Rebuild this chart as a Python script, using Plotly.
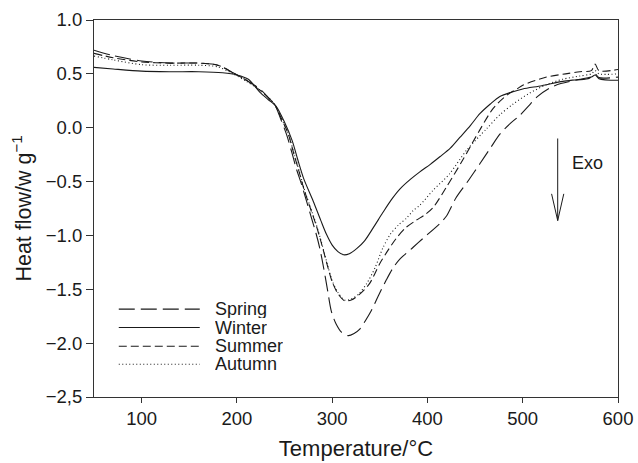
import plotly.graph_objects as go

# ---------------- data ----------------
spring_x = [50, 70, 100, 130, 160, 180, 196, 210, 224, 233, 240, 246, 252, 258, 262, 268, 273, 278,
            283, 287, 291, 295, 299, 304, 310, 317, 323, 329, 335, 341, 349, 357, 364, 371, 385, 395,
            413, 420, 430, 443, 455, 466, 476, 487, 497, 506, 515, 528, 540, 555, 570, 576, 580, 600]
spring_y = [0.72, 0.67, 0.62, 0.60, 0.60, 0.58, 0.51, 0.44, 0.36, 0.28, 0.21, 0.08, -0.06, -0.24,
            -0.37, -0.53, -0.68, -0.83, -0.98, -1.12, -1.30, -1.50, -1.70, -1.82, -1.90, -1.93, -1.91,
            -1.87, -1.79, -1.70, -1.55, -1.41, -1.30, -1.22, -1.11, -1.03, -0.89, -0.82, -0.65, -0.49,
            -0.335, -0.19, -0.06, 0.04, 0.115, 0.20, 0.286, 0.367, 0.41, 0.44, 0.46, 0.50, 0.465, 0.47]

winter_x = [50, 70, 100, 130, 160, 185, 200, 212, 224, 233, 241, 250, 258, 264, 270, 280, 288, 294,
            300, 306, 312, 318, 326, 334, 343, 353, 362, 371, 382, 392, 403, 413, 424, 434, 445, 455,
            466, 476, 488, 500, 520, 542, 560, 572, 576, 580, 600]
winter_y = [0.56, 0.545, 0.525, 0.52, 0.52, 0.51, 0.49, 0.45, 0.33, 0.26, 0.20, 0.05, -0.12, -0.30,
            -0.47, -0.68, -0.86, -0.99, -1.09, -1.15, -1.18, -1.17, -1.12, -1.05, -0.93, -0.79, -0.67,
            -0.57, -0.48, -0.41, -0.34, -0.27, -0.19, -0.09, 0.02, 0.13, 0.22, 0.29, 0.33, 0.36, 0.39,
            0.43, 0.45, 0.47, 0.49, 0.455, 0.44]

summer_x = [50, 70, 100, 130, 160, 180, 196, 210, 224, 233, 240, 247, 254, 260, 265, 270, 276, 283,
            288, 295, 300, 306, 313, 320, 327, 339, 350, 357, 367, 377, 388, 397, 406, 420, 437, 455,
            469, 483, 494, 500, 525, 545, 560, 572, 576, 580, 600]
summer_y = [0.69, 0.65, 0.61, 0.60, 0.60, 0.58, 0.51, 0.44, 0.35, 0.28, 0.21, 0.08, -0.06, -0.25,
            -0.40, -0.56, -0.72, -0.90, -1.05, -1.28, -1.43, -1.54, -1.607, -1.60, -1.56, -1.45,
            -1.26, -1.16, -1.03, -0.93, -0.86, -0.81, -0.74, -0.55, -0.30, -0.02, 0.18, 0.30, 0.36,
            0.395, 0.47, 0.50, 0.52, 0.53, 0.59, 0.53, 0.54]

autumn_x = [50, 70, 100, 130, 160, 180, 196, 210, 224, 233, 240, 247, 254, 260, 265, 270, 276, 283,
            288, 295, 300, 306, 313, 320, 327, 336, 345, 353, 361, 370, 378, 385, 392, 406, 423, 441,
            462, 476, 490, 507, 525, 542, 560, 572, 576, 580, 600]
autumn_y = [0.665, 0.63, 0.585, 0.58, 0.58, 0.565, 0.50, 0.43, 0.35, 0.28, 0.21, 0.08, -0.06, -0.24,
            -0.39, -0.55, -0.71, -0.89, -1.04, -1.27, -1.42, -1.53, -1.60, -1.59, -1.55, -1.45,
            -1.30, -1.12, -0.99, -0.90, -0.84, -0.77, -0.72, -0.58, -0.43, -0.21, -0.01, 0.12, 0.22,
            0.32, 0.40, 0.45, 0.48, 0.50, 0.53, 0.50, 0.50]

series_names = ["Spring", "Winter", "Summer", "Autumn"]
x_ticks = [100, 200, 300, 400, 500, 600]
y_ticks = [-2.5, -2.0, -1.5, -1.0, -0.5, 0.0, 0.5, 1.0]
y_tick_labels = ["\u22122,5", "\u22122.0", "\u22121.5", "\u22121.0", "\u22120.5", "0.0", "0.5", "1.0"]

# ---------------- styling ----------------
INK = "#1a1a1a"
FONT = "Liberation Sans, Arial, Helvetica, sans-serif"
dashes = {"Spring": "16px,6px", "Winter": "solid", "Summer": "8px,4px", "Autumn": "1px,2.5px"}
data = {"Spring": (spring_x, spring_y), "Winter": (winter_x, winter_y),
        "Summer": (summer_x, summer_y), "Autumn": (autumn_x, autumn_y)}

fig = go.Figure()
for name in series_names:
    xs, ys = data[name]
    fig.add_trace(go.Scatter(
        x=xs, y=ys, mode="lines", name=name, showlegend=False,
        line=dict(color=INK, width=1.1, dash=dashes[name], shape="spline", smoothing=0.8),
    ))

# manual legend (long line samples like the original)
leg_x0, leg_x1, leg_tx = 76, 161, 176
leg_rows = [-1.684, -1.855, -2.029, -2.196]
for name, yy in zip(series_names, leg_rows):
    fig.add_shape(type="line", xref="x", yref="y", x0=leg_x0, x1=leg_x1, y0=yy, y1=yy,
                  line=dict(color=INK, width=1.1, dash=dashes[name]))
    fig.add_annotation(x=leg_tx, y=yy, xref="x", yref="y", text=name, showarrow=False,
                       xanchor="left", yanchor="middle", height=18, borderpad=0,
                       font=dict(family=FONT, size=18, color=INK))

# "Exo" arrow (open V head)
ax, ay_top, ay_tip, ay_head, hw = 536.7, -0.10, -0.862, -0.614, 6.4
fig.add_shape(type="line", x0=ax, x1=ax, y0=ay_top, y1=ay_tip, line=dict(color=INK, width=1))
fig.add_shape(type="line", x0=ax - hw, x1=ax, y0=ay_head, y1=ay_tip, line=dict(color=INK, width=1))
fig.add_shape(type="line", x0=ax + hw, x1=ax, y0=ay_head, y1=ay_tip, line=dict(color=INK, width=1))
fig.add_annotation(x=550, y=-0.33, text="Exo", showarrow=False, xanchor="left", yanchor="middle",
                   font=dict(family=FONT, size=18, color=INK))

axis_common = dict(showline=True, linecolor="#333", linewidth=1, mirror=True, ticks="outside",
                   tickcolor="#333", showgrid=False, zeroline=False, automargin=False,
                   tickfont=dict(family=FONT, size=18.5, color=INK))

fig.update_layout(
    width=638, height=463,
    margin=dict(l=94, r=20, t=20, b=66),
    paper_bgcolor="white", plot_bgcolor="white",
    font=dict(family=FONT, color=INK),
    xaxis=dict(range=[50, 600], tickvals=x_ticks, ticklen=5,
               title=dict(text="Temperature/\u00b0C", font=dict(family=FONT, size=22, color=INK),
                          standoff=12),
               **axis_common),
    yaxis=dict(range=[-2.5, 1.0], tickvals=y_ticks, ticktext=y_tick_labels, ticklen=7,
               title=dict(text="Heat flow/w g<sup>\u22121</sup>",
                          font=dict(family=FONT, size=21.5, color=INK), standoff=8),
               **axis_common),
)

fig.write_html("out.html",
               config={"displayModeBar": False},
               post_script="document.body.style.margin='0';document.body.style.overflow='hidden';")
